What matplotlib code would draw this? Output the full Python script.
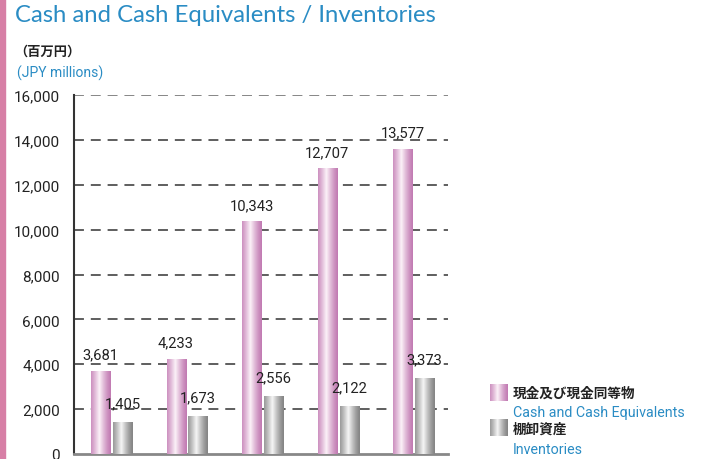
import numpy as np
import matplotlib
matplotlib.use("Agg")
import matplotlib.pyplot as plt
from matplotlib.colors import LinearSegmentedColormap

plt.rcParams['font.family'] = ['Roboto', 'Noto Sans CJK JP', 'DejaVu Sans']

cash = [3681, 4233, 10343, 12707, 13577]
inventories = [1405, 1673, 2556, 2122, 3373]
yticks = [0, 2000, 4000, 6000, 8000, 10000, 12000, 14000, 16000]

BLUE = '#2a8cc4'

# horizontal gradient profiles for the "cylinder" look
t = np.linspace(0, 1, 64)
prof = np.clip(1 - np.abs(t - 0.42) / 0.58, 0, 1) ** 1.3
pink_cm = LinearSegmentedColormap.from_list('pk', ['#c27bb3', '#fbf0f7'])
gray_cm = LinearSegmentedColormap.from_list('gy', ['#858585', '#f4f4f4'])
grad = prof.reshape(1, -1)

fig = plt.figure(figsize=(7.06, 4.60), dpi=100)
ax = fig.add_axes([74 / 706, 5 / 460, (448 - 74) / 706, (455 - 96) / 460])

w = 0.252
off = 0.29
for i in range(len(cash)):
    ax.imshow(grad, cmap=pink_cm, extent=[i - w / 2, i + w / 2, 0, cash[i]],
              aspect='auto', interpolation='bilinear', zorder=3)
    ax.imshow(grad, cmap=gray_cm, extent=[i + off - w / 2, i + off + w / 2, 0, inventories[i]],
              aspect='auto', interpolation='bilinear', zorder=3)
    ax.annotate(f'{cash[i]:,}', (i, cash[i]), xytext=(0, 10), textcoords='offset pixels',
                ha='center', va='bottom', fontsize=10.6, color='#222222', zorder=4)
    ax.annotate(f'{inventories[i]:,}', (i + off, inventories[i]), xytext=(0, 12),
                textcoords='offset pixels', ha='center', va='bottom', fontsize=10.6,
                color='#222222', zorder=4)

ax.set_xlim(-0.351, 4.6)
ax.set_ylim(0, 16000)
ax.set_yticks(yticks)
ax.set_yticklabels([f'{v:,}' for v in yticks], fontsize=11, color='#222222')
ax.set_xticks([])
ax.tick_params(axis='y', length=0, pad=10)
for y in yticks[1:]:
    ax.axhline(y, color='#666666' if y == 16000 else '#333333', lw=1.1,
               ls=(0, (6.5, 4.5)), zorder=1)
for s in ['top', 'right']:
    ax.spines[s].set_visible(False)
ax.spines['left'].set_color('#333333')
ax.spines['left'].set_linewidth(1.5)
ax.spines['bottom'].set_color('#888888')
ax.spines['bottom'].set_linewidth(2)

# left accent stripe
fig.patches.append(plt.Rectangle((0, 0), 5 / 706, 1, transform=fig.transFigure,
                                 color='#d77fa6', zorder=0))

fig.text(15 / 706, 1 - 16 / 460, 'Cash and Cash Equivalents / Inventories',
         fontsize=17.2, color=BLUE, va='center', family=['Lato', 'DejaVu Sans'])
fig.text(14 / 706, 1 - 52 / 460, '（百万円）', fontsize=9.5, color='#222222',
         va='center', family=['Noto Sans CJK JP'], weight='bold')
fig.text(17 / 706, 1 - 73 / 460, '(JPY millions)', fontsize=10, color=BLUE, va='center')

# legend
def swatch(y0, cm):
    sa = fig.add_axes([490 / 706, 1 - (y0 + 17) / 460, 17 / 706, 17 / 460])
    sa.imshow(grad, cmap=cm, aspect='auto', interpolation='bilinear')
    sa.axis('off')

swatch(385, pink_cm)
swatch(420, gray_cm)
fig.text(513 / 706, 1 - 394 / 460, '現金及び現金同等物', fontsize=9.8, color='#222222',
         va='center', family=['Noto Sans CJK JP'], weight='bold')
fig.text(513 / 706, 1 - 413 / 460, 'Cash and Cash Equivalents', fontsize=10.3,
         color=BLUE, va='center')
fig.text(513 / 706, 1 - 430 / 460, '棚卸資産', fontsize=9.8, color='#222222',
         va='center', family=['Noto Sans CJK JP'], weight='bold')
fig.text(513 / 706, 1 - 450 / 460, 'Inventories', fontsize=10.3, color=BLUE, va='center')

fig.savefig('out.png', dpi=100)
